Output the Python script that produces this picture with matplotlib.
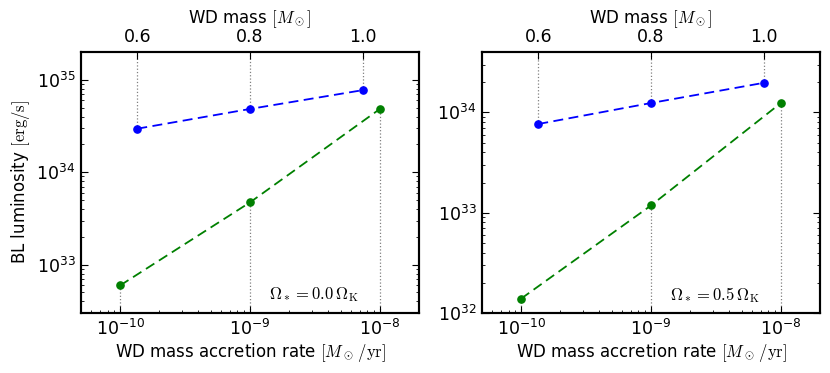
import matplotlib
matplotlib.use("Agg")
import matplotlib.pyplot as plt
from matplotlib.ticker import LogLocator, NullFormatter

plt.rcParams.update({
    "font.family": ["DejaVu Sans"],
    "mathtext.fontset": "cm",
    "font.size": 12,
    "xtick.direction": "in",
    "ytick.direction": "in",
    "xtick.major.size": 5,
    "ytick.major.size": 5,
    "xtick.minor.size": 2.5,
    "ytick.minor.size": 2.5,
    "axes.linewidth": 1.5,
    "axes.unicode_minus": False,
})

# Data
rates = [1e-10, 1e-9, 1e-8]            # WD mass accretion rate [Msun/yr]
masses = [0.6, 0.8, 1.0]               # WD mass [Msun]
omega_labels = [r"$\Omega_* = 0.0\,\Omega_{\rm K}$", r"$\Omega_* = 0.5\,\Omega_{\rm K}$"]
L_mass = [[2.96e34, 4.84e34, 7.73e34], [7.66e33, 1.24e34, 1.97e34]]   # blue: vs WD mass
L_rate = [[5.96e32, 4.72e33, 4.84e34], [1.39e32, 1.18e33, 1.24e34]]   # green: vs accretion rate
ylims = [(3e32, 2e35), (1e32, 4e34)]
yticks = [[1e33, 1e34, 1e35], [1e32, 1e33, 1e34]]
ytick_labels = [[r"$10^{33}$", r"$10^{34}$", r"$10^{35}$"], [r"$10^{32}$", r"$10^{33}$", r"$10^{34}$"]]
xticks = [1e-10, 1e-9, 1e-8]
xtick_labels = [r"$10^{-10}$", r"$10^{-9}$", r"$10^{-8}$"]
mtick_labels = ["0.6", "0.8", "1.0"]

fig = plt.figure(figsize=(8.3, 3.73), dpi=100)
positions = [[81/830, 60/373, 338/830, 261/373], [482/830, 60/373, 338/830, 261/373]]

for i in range(2):
    ax = fig.add_axes(positions[i])
    ax.set_xscale("log")
    ax.set_yscale("log")
    ax.set_xlim(5e-11, 2e-8)
    ax.set_ylim(*ylims[i])
    ax2 = ax.twiny()
    ax2.set_xlim(0.5, 1.1)
    ax2.set_ylim(*ylims[i])

    ymin, ymax = ylims[i]
    # dotted guide lines
    ax.vlines(rates, ymin, L_rate[i], colors="0.5", linestyles=":", lw=0.9, zorder=1)
    ax2.vlines(masses, L_mass[i], ymax, colors="0.5", linestyles=":", lw=0.9, zorder=1)

    ax.plot(rates, L_rate[i], color="#008000", ls="--", dashes=(5.5, 3), lw=1.3,
            marker="o", ms=5.2, mec="#008000", zorder=3)
    ax2.plot(masses, L_mass[i], color="#0000ff", ls="--", dashes=(5.5, 3), lw=1.3,
             marker="o", ms=5.2, mec="#0000ff", zorder=3)

    ax.set_xticks(xticks)
    ax.set_xticklabels(xtick_labels)
    ax.xaxis.set_minor_locator(LogLocator(base=10, subs=range(2, 10), numticks=20))
    ax.xaxis.set_minor_formatter(NullFormatter())
    ax.set_yticks(yticks[i])
    ax.set_yticklabels(ytick_labels[i])
    ax.yaxis.set_minor_locator(LogLocator(base=10, subs=range(2, 10), numticks=20))
    ax.yaxis.set_minor_formatter(NullFormatter())
    ax.tick_params(axis="x", which="both", top=False, pad=4)
    ax.tick_params(axis="y", which="both", left=True, right=True, pad=4)
    ax.tick_params(axis="both", which="major", labelsize=12.5)
    for lab in ax.get_xticklabels() + ax.get_yticklabels():
        lab.set_math_fontfamily("dejavusans")

    ax2.set_xticks(masses)
    ax2.set_xticklabels(mtick_labels)
    ax2.xaxis.set_minor_locator(plt.NullLocator())
    ax2.tick_params(axis="x", which="major", pad=4, labelsize=12.5)

    ax.set_xlabel(r"WD mass accretion rate $[M_\odot\,/\mathrm{yr}]$", fontsize=12, labelpad=2)
    ax2.set_xlabel(r"WD mass $[M_\odot]$", fontsize=12, labelpad=4)
    if i == 0:
        ax.set_ylabel(r"BL luminosity $[\mathrm{erg/s}]$", fontsize=12, labelpad=3)

    ax.text(0.822, 0.07, omega_labels[i], transform=ax.transAxes, ha="right", va="center", fontsize=12)

fig.savefig("out.png", dpi=100)
